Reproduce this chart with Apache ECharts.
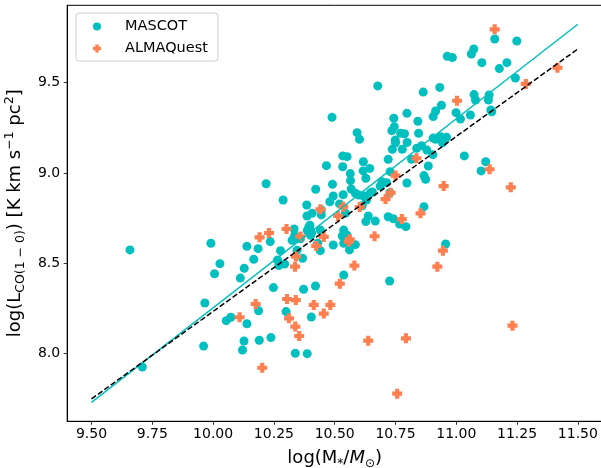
<!DOCTYPE html>
<html><head><meta charset="utf-8">
<script src="https://cdn.jsdelivr.net/npm/echarts@6/dist/echarts.min.js"></script>
<style>html,body{margin:0;padding:0;background:#fff}#c{width:601px;height:468px}</style>
</head><body><div id="c"></div>
<script>
const mascotX = [9.658,9.709,9.961,9.966,9.991,10.006,10.028,10.054,10.073,10.112,10.128,10.121,10.127,10.139,10.139,10.167,10.185,10.187,10.190,10.218,10.235,10.238,10.248,10.265,10.270,10.277,10.288,10.294,10.300,10.325,10.333,10.335,10.338,10.344,10.345,10.359,10.368,10.372,10.385,10.386,10.387,10.387,10.393,10.398,10.400,10.401,10.404,10.405,10.407,10.421,10.422,10.430,10.441,10.445,10.445,10.441,10.466,10.480,10.489,10.491,10.494,10.494,10.520,10.531,10.533,10.533,10.535,10.537,10.537,10.537,10.544,10.551,10.551,10.561,10.564,10.565,10.568,10.585,10.585,10.592,10.602,10.599,10.613,10.617,10.618,10.620,10.628,10.628,10.631,10.636,10.638,10.644,10.647,10.655,10.667,10.677,10.687,10.695,10.713,10.720,10.720,10.726,10.727,10.728,10.735,10.737,10.741,10.743,10.745,10.749,10.750,10.767,10.771,10.778,10.787,10.793,10.797,10.797,10.798,10.816,10.837,10.842,10.845,10.857,10.864,10.867,10.867,10.874,10.879,10.885,10.904,10.905,10.905,10.915,10.915,10.932,10.936,10.939,10.943,10.956,10.960,10.963,10.984,10.999,11.017,11.033,11.058,11.062,11.072,11.073,11.079,11.102,11.105,11.121,11.132,11.135,11.142,11.146,11.158,11.177,11.208,11.243,11.249];
const mascotY = [8.573,7.924,8.040,8.279,8.610,8.441,8.497,8.181,8.200,8.417,8.471,8.018,8.068,8.164,8.593,8.521,8.580,8.236,8.072,8.940,8.619,8.087,8.364,8.517,8.486,8.569,8.850,8.495,8.231,8.626,8.689,8.652,8.000,8.641,8.571,8.635,8.527,8.355,8.822,8.761,7.998,8.680,8.698,8.710,8.683,8.654,8.201,8.668,8.776,8.373,8.909,8.610,8.569,8.794,8.767,8.683,9.040,8.840,9.308,8.937,8.872,8.600,8.828,8.650,9.094,9.034,8.879,8.683,8.610,8.434,8.776,9.090,8.654,8.573,8.996,8.957,8.911,8.887,8.602,9.223,9.186,8.877,8.818,9.011,9.062,8.872,8.970,8.730,8.850,8.872,8.761,9.025,8.890,8.894,8.733,9.482,8.927,8.951,8.946,9.075,8.757,8.401,8.890,9.007,9.234,9.131,8.746,9.303,9.256,9.182,9.167,8.717,9.220,9.131,9.217,8.702,9.330,8.944,9.169,9.075,9.136,9.286,9.220,9.151,9.448,8.985,8.813,8.965,9.127,9.038,9.101,9.312,9.193,9.343,9.186,9.474,9.201,9.375,9.167,8.606,9.197,9.646,9.639,9.334,9.299,9.094,9.321,9.659,9.687,9.434,9.404,9.011,9.611,9.062,9.404,9.432,9.349,9.339,9.742,9.578,9.611,9.526,9.731];
const almaX = [11.158,11.416,11.286,11.003,11.137,10.836,10.750,10.948,11.224,10.730,10.709,10.603,10.535,10.514,10.441,10.776,10.853,10.664,10.455,10.562,10.359,10.191,10.230,10.302,10.341,10.337,10.109,10.175,10.304,10.340,10.312,10.338,10.354,10.202,10.581,10.521,10.414,10.482,10.455,10.638,10.793,10.922,10.945,10.757,11.231,10.558,10.424];
const almaY = [9.796,9.583,9.493,9.400,9.020,9.081,8.985,8.927,8.920,8.890,8.855,8.811,8.813,8.761,8.798,8.744,8.776,8.649,8.645,8.632,8.648,8.643,8.667,8.689,8.536,8.480,8.200,8.273,8.301,8.295,8.194,8.148,8.096,7.920,8.486,8.386,8.268,8.268,8.220,8.070,8.083,8.480,8.569,7.776,8.153,8.619,8.595];
const fitX = [9.5, 11.5];
const mascotFitY = [7.728, 9.824];
const combinedFitY = [7.747, 9.687];
const xTicks = [9.5, 9.75, 10.0, 10.25, 10.5, 10.75, 11.0, 11.25, 11.5];
const yTicks = [8.0, 8.5, 9.0, 9.5];

const zip = (a, b) => a.map((v, i) => [v, b[i]]);
const plusPath = 'path://M3.5,0H8.5V3.5H12V8.5H8.5V12H3.5V8.5H0V3.5H3.5Z';
const F = 'DejaVu Sans';
const chart = echarts.init(document.getElementById('c'), null, {renderer: 'canvas'});
chart.setOption({
  animation: false,
  backgroundColor: '#fff',
  grid: {left: 67.2, right: -1.2, top: 5.3, bottom: 46.7, containLabel: false, outerBoundsMode: 'none',
         show: true, borderColor: '#000', borderWidth: 1, backgroundColor: 'transparent'},
  legend: {
    orient: 'vertical', left: 76, top: 13,
    padding: [6, 10, 5, 17], itemGap: 7,
    itemWidth: 30, itemHeight: 8,
    borderColor: '#d0d0d0', borderWidth: 1, borderRadius: 3, backgroundColor: 'rgba(255,255,255,0.8)',
    textStyle: {fontFamily: F, fontSize: 14.5, color: '#000', padding: [0, 0, 0, 8]},
    data: ['MASCOT', 'ALMAQuest']
  },
  xAxis: {
    type: 'value', min: 9.4, max: 11.6,
    axisLine: {show: true, onZero: false, lineStyle: {color: '#000', width: 1}},
    axisTick: {show: true, length: 3.5, lineStyle: {color: '#000', width: 0.8}, customValues: xTicks},
    axisLabel: {fontFamily: F, fontSize: 14, color: '#000', margin: 6, customValues: xTicks, formatter: v => v.toFixed(2)},
    splitLine: {show: false},
    name: 'log(M{sub|*}/{it|M}{sub|⊙})', nameLocation: 'middle', nameGap: 21,
    nameTextStyle: {fontFamily: F, fontSize: 18, color: '#000', lineHeight: 24,
      rich: {sub: {fontFamily: F, fontSize: 12, lineHeight: 15, verticalAlign: 'bottom', color: '#000'},
             it: {fontFamily: F, fontSize: 18, fontStyle: 'italic', lineHeight: 24, color: '#000'}}}
  },
  yAxis: {
    type: 'value', min: 7.623, max: 9.929,
    axisLine: {show: true, onZero: false, lineStyle: {color: '#000', width: 1}},
    axisTick: {show: true, length: 3.5, lineStyle: {color: '#000', width: 0.8}, customValues: yTicks},
    axisLabel: {fontFamily: F, fontSize: 14, color: '#000', margin: 7, customValues: yTicks, formatter: v => v.toFixed(1)},
    splitLine: {show: false},
    name: 'log(L{sub|CO(1 − 0)}) [K km s{sup|−1} pc{sup|2}]', nameLocation: 'middle', nameRotate: 90, nameGap: 33,
    nameTextStyle: {fontFamily: F, fontSize: 18, color: '#000', lineHeight: 24,
      rich: {sub: {fontFamily: F, fontSize: 12.5, lineHeight: 15, verticalAlign: 'bottom', color: '#000'},
             sup: {fontFamily: F, fontSize: 12.5, lineHeight: 14, verticalAlign: 'top', color: '#000'}}}
  },
  series: [
    {name: 'MASCOT', type: 'scatter', symbol: 'circle', symbolSize: 9, itemStyle: {color: '#00bfbf', opacity: 1}, data: zip(mascotX, mascotY), z: 2},
    {name: 'ALMAQuest', type: 'scatter', symbol: plusPath, symbolSize: 10, itemStyle: {color: '#ff7f50', opacity: 1}, data: zip(almaX, almaY), z: 3},
    {name: 'fitM', type: 'line', data: zip(fitX, mascotFitY), showSymbol: false, symbol: 'none', lineStyle: {color: '#00bfbf', width: 1.5}, z: 4},
    {name: 'fitC', type: 'line', data: zip(fitX, combinedFitY), showSymbol: false, symbol: 'none', lineStyle: {color: '#000', width: 1.5, type: [5.5, 2.4]}, z: 5}
  ]
});
</script></body></html>
